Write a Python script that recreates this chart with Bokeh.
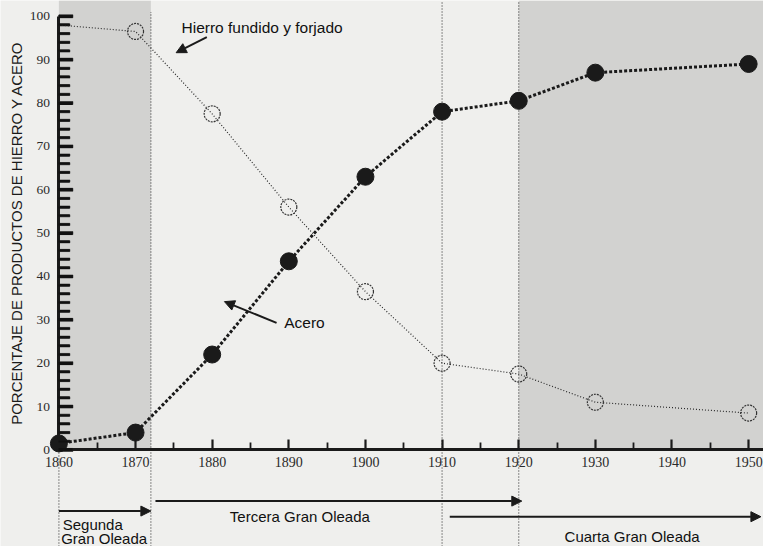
from bokeh.plotting import figure
from bokeh.models import FixedTicker, Arrow, NormalHead, ColumnDataSource, Range1d
from bokeh.core.properties import value
from bokeh.embed import file_html
from bokeh.resources import INLINE

# ---- data ----
anios = [1860, 1870, 1880, 1890, 1900, 1910, 1920, 1930, 1950]
hierro = [98, 96.5, 77.5, 56, 36.5, 20, 17.5, 11, 8.5]
acero = [1.5, 4, 22, 43.5, 63, 78, 80.5, 87, 89]

x_ticks = [1860, 1870, 1880, 1890, 1900, 1910, 1920, 1930, 1940, 1950]
x_minor = [1865, 1875, 1885, 1895, 1905, 1915, 1925, 1935, 1945]
y_ticks = [0, 10, 20, 30, 40, 50, 60, 70, 80, 90, 100]
y_minor = [v for v in range(2, 100, 2) if v % 10 != 0]

sombra_inicio = [1860, 1920]
sombra_fin = [1872, 1952]
divisiones = [1872, 1910, 1920]

ola_inicio = [1860, 1872.6, 1911]
ola_fin = [1872, 1920.4, 1951.6]

BG = "#efefed"
INK = "#1a1a1a"

X0, X1 = 1852.38, 1951.94
Y0, Y1 = -22.27, 103.64
W, H = 763, 546
PX_X = W / (X1 - X0)   # pixels per year
PX_Y = H / (Y1 - Y0)   # pixels per percent

p = figure(width=W, height=H, output_backend="svg", toolbar_location=None,
           x_range=Range1d(X0, X1), y_range=Range1d(Y0, Y1),
           min_border_left=0, min_border_right=0, min_border_top=0, min_border_bottom=0)
p.background_fill_color = BG
p.border_fill_color = BG
p.outline_line_color = None
p.xgrid.visible = False
p.ygrid.visible = False

# shaded periods
p.quad(left=sombra_inicio, right=sombra_fin, bottom=0, top=Y1,
       fill_color="#d2d2d0", line_color=None)

# vertical dotted dividers
p.segment(x0=[1860], x1=[1860], y0=[Y0], y1=[0], line_color="#444444",
          line_width=1.2, line_dash="1 2")
p.segment(x0=divisiones, x1=divisiones, y0=[Y0] * 3, y1=[101, Y1, Y1],
          line_color="#444444", line_width=1.2, line_dash="1 2")

# y tick marks pointing inward (right), built from the tick lists
p.quad(bottom=[t - 1.5 / PX_Y for t in y_ticks], top=[t + 1.5 / PX_Y for t in y_ticks],
       left=1860, right=1860 + 14 / PX_X, fill_color="#111111", line_color="#111111",
       line_width=0.5)
p.quad(bottom=[t - 1.1 / PX_Y for t in y_minor], top=[t + 1.1 / PX_Y for t in y_minor],
       left=1860, right=1860 + 11 / PX_X, fill_color="#111111", line_color="#111111",
       line_width=0.5)

# series
src_h = ColumnDataSource(dict(x=anios, y=hierro))
p.line("x", "y", source=src_h, line_color="#2a2a2a", line_width=1.2, line_dash="1 2")
src_hm = ColumnDataSource(dict(x=anios[1:], y=hierro[1:]))
p.scatter("x", "y", source=src_hm, marker="circle", size=16, fill_alpha=0,
          line_color="#333333", line_width=1.2, line_dash="2 1")

src_a = ColumnDataSource(dict(x=anios, y=acero))
p.line("x", "y", source=src_a, line_color=INK, line_width=3, line_dash="3 2")
p.scatter("x", "y", source=src_a, marker="circle", size=17, fill_color=INK, line_color=INK)

# axes
ax = p.xaxis[0]
ax.fixed_location = 0
ax.bounds = (1860, 1952)
ax.ticker = FixedTicker(ticks=x_ticks, minor_ticks=x_minor)
ax.axis_line_width = 3
ax.axis_line_color = INK
ax.major_tick_in = 10
ax.major_tick_out = 0
ax.minor_tick_in = 7
ax.minor_tick_out = 0
ax.major_tick_line_width = 2.2
ax.minor_tick_line_width = 1.8
ax.major_tick_line_color = INK
ax.minor_tick_line_color = INK
ax.major_label_text_font = "Liberation Serif"
ax.major_label_text_font_size = "14px"
ax.major_label_text_color = "#2a2a2a"
ax.major_label_standoff = 7

ay = p.yaxis[0]
ay.fixed_location = 1860
ay.bounds = (0, 100)
ay.ticker = FixedTicker(ticks=y_ticks, minor_ticks=y_minor)
ay.axis_line_width = 3
ay.axis_line_color = INK
ay.major_tick_in = 14
ay.major_tick_out = 0
ay.minor_tick_in = 11
ay.minor_tick_out = 0
ay.major_tick_line_width = 3
ay.minor_tick_line_width = 2.2
ay.major_tick_line_color = "#111111"
ay.minor_tick_line_color = "#111111"
ay.major_label_text_font = "Liberation Serif"
ay.major_label_text_font_size = "13.5px"
ay.major_label_text_color = "#2a2a2a"
ay.major_label_standoff = 9
ay.axis_label = "PORCENTAJE DE PRODUCTOS DE HIERRO Y ACERO"
ay.axis_label_text_font = "Liberation Sans"
ay.axis_label_text_font_size = "15px"
ay.axis_label_text_font_style = "normal"
ay.axis_label_text_color = INK
ay.axis_label_standoff = 1

# annotations
p.text(x=[1876.0], y=[97.5], text=["Hierro fundido y forjado"],
       text_font=value("Liberation Sans"), text_font_size="15.5px", text_color="#111111",
       text_baseline="middle", text_align="left")
p.add_layout(Arrow(end=NormalHead(size=10, fill_color=INK, line_color=INK),
                   x_start=1879.3, y_start=95.2, x_end=1875.3, y_end=91.6,
                   line_width=2, line_color=INK))

p.text(x=[1889.4], y=[29.3], text=["Acero"],
       text_font=value("Liberation Sans"), text_font_size="15.5px", text_color="#111111",
       text_baseline="middle", text_align="left")
p.add_layout(Arrow(end=NormalHead(size=10, fill_color=INK, line_color=INK),
                   x_start=1888.4, y_start=29.3, x_end=1881.6, y_end=34.2,
                   line_width=2, line_color=INK))

# wave arrows below the axis
ys_ola = [-14.1, -11.8, -15.4]
for x0, x1, yy in zip(ola_inicio, ola_fin, ys_ola):
    p.add_layout(Arrow(end=NormalHead(size=10, fill_color=INK, line_color=INK),
                       x_start=x0, y_start=yy, x_end=x1, y_end=yy,
                       line_width=2, line_color=INK))

p.text(x=[1860.5, 1860.3, 1882.3, 1934.8],
       y=[-17.1, -20.4, -15.3, -20.0],
       text=["Segunda", "Gran Oleada", "Tercera Gran Oleada", "Cuarta Gran Oleada"],
       text_align=["left", "left", "left", "center"],
       text_font=value("Liberation Sans"), text_font_size="15px", text_color="#111111",
       text_baseline="middle")

open("out.html", "w").write(file_html(p, INLINE))
